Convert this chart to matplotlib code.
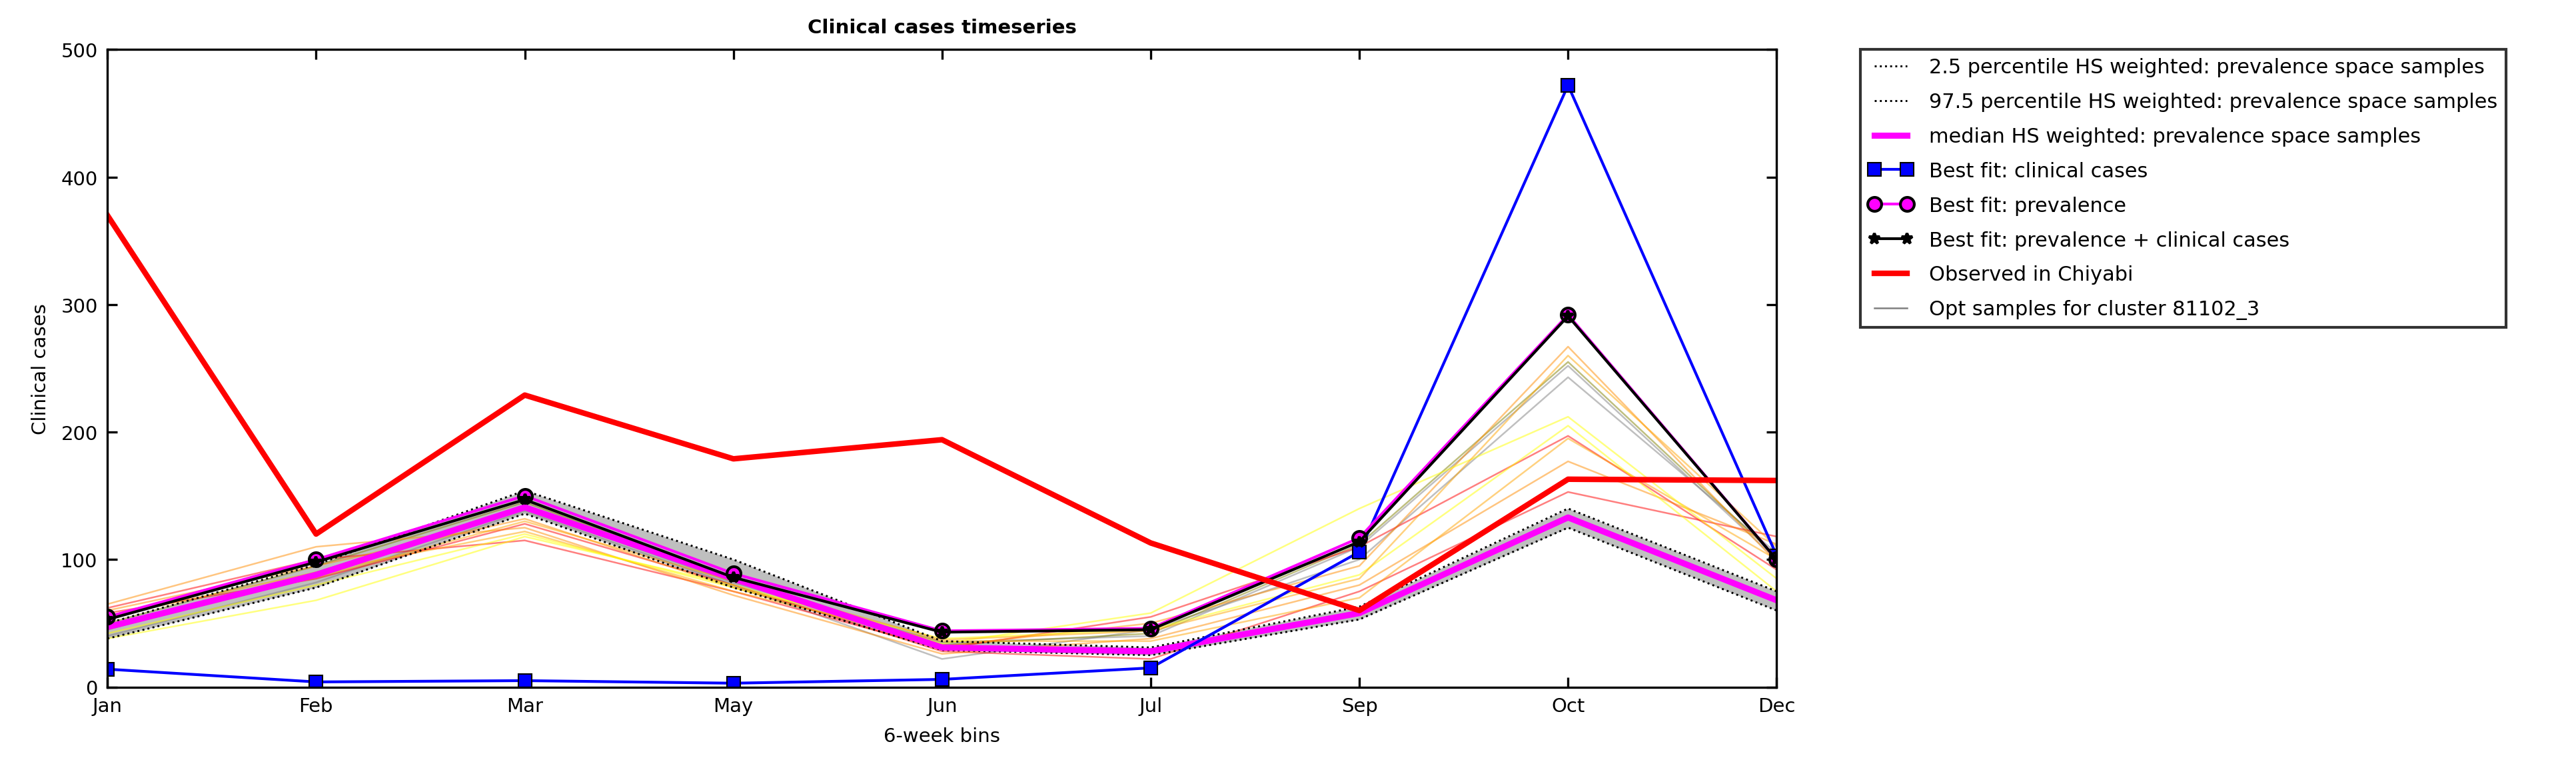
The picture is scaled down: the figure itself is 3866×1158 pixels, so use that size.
import numpy as np
import matplotlib
matplotlib.use("Agg")
from matplotlib import pyplot as plt

# Month bins on the x axis.
months = ["Jan", "Feb", "Mar", "May", "Jun", "Jul", "Sep", "Oct", "Dec"]

# Series.
observed = [370, 120, 229, 179, 194, 113, 60, 163, 162]
fit_clinical = [14, 4, 5, 3, 6, 15, 106, 472, 103]
fit_prevalence = [55, 100, 150, 89, 44, 46, 117, 292, 100]
fit_both = [53, 98, 147, 86, 43, 45, 114, 291, 100]
median_hs = [47, 88, 141, 85, 31, 28, 58, 133, 68]
low_hs = [38, 78, 136, 78, 29, 25, 53, 125, 60]
high_hs = [50, 96, 154, 100, 36, 31, 63, 140, 75]

# Opt samples for the cluster, with their colours.
opt_samples = [
    [40, 82, 138, 80, 22, 45, 100, 243, 105],
    [45, 90, 140, 82, 35, 40, 110, 252, 100],
    [50, 95, 145, 85, 33, 42, 112, 255, 102],
    [62, 100, 115, 75, 30, 55, 110, 197, 92],
    [58, 85, 128, 80, 28, 22, 75, 153, 118],
    [65, 110, 125, 72, 26, 38, 80, 177, 112],
    [60, 95, 132, 78, 32, 50, 95, 267, 98],
    [55, 90, 122, 75, 36, 36, 70, 195, 100],
    [38, 68, 118, 80, 34, 58, 140, 212, 85],
    [42, 80, 120, 78, 38, 45, 88, 205, 75],
    [48, 86, 130, 83, 37, 44, 85, 260, 110],
]
opt_colors = ["gray", "gray", "olive", "red", "red", "darkorange", "darkorange",
              "orange", "yellow", "yellow", "orange"]

x = np.arange(len(months))

fig = plt.figure(figsize=(12.887, 3.863), dpi=300)
ax = fig.add_axes([0.0417, 0.11, 0.648, 0.825])

# Samples first, underneath everything.
for s, c in zip(opt_samples, opt_colors):
    ax.plot(x, s, color=c, linewidth=0.6, alpha=0.5)
ax.plot([], [], color="gray", linewidth=0.6, label="Opt samples for cluster 81102_3")

# Percentile band.
ax.fill_between(x, low_hs, high_hs, color="gray", alpha=0.5, linewidth=0)
ax.plot(x, low_hs, ":", color="k", linewidth=0.7, label="2.5 percentile HS weighted: prevalence space samples")
ax.plot(x, high_hs, ":", color="k", linewidth=0.7, label="97.5 percentile HS weighted: prevalence space samples")
ax.plot(x, median_hs, color="magenta", linewidth=2.2, label="median HS weighted: prevalence space samples")

ax.plot(x, fit_clinical, "s-", color="blue", markeredgecolor="k", markeredgewidth=0.5,
        markersize=5, linewidth=1, label="Best fit: clinical cases")
ax.plot(x, fit_prevalence, "o-", color="magenta", markeredgecolor="k", markersize=5,
        linewidth=1, label="Best fit: prevalence")
ax.plot(x, fit_both, "*-", color="k", markersize=4, linewidth=1, label="Best fit: prevalence + clinical cases")
ax.plot(x, observed, color="red", linewidth=2, label="Observed in Chiyabi")

ax.set_xlim(0, len(months) - 1)
ax.set_ylim(0, 500)
ax.set_xticks(x)
ax.set_xticklabels(months, fontsize=7)
ax.tick_params(axis="y", labelsize=7)
ax.tick_params(direction="in", top=True, right=True)
ax.set_xlabel("6-week bins", fontsize=7)
ax.set_ylabel("Clinical cases", fontsize=7)
ax.set_title("Clinical cases timeseries", fontsize=7, fontweight="bold")

# Legend order as in the reference.
h, l = ax.get_legend_handles_labels()
order = [1, 2, 3, 4, 5, 6, 7, 0]
leg = ax.legend([h[i] for i in order], [l[i] for i in order], loc="upper left",
                bbox_to_anchor=(1.05, 1.0), fontsize=7.3, fancybox=False, numpoints=2,
                edgecolor="k", borderaxespad=0, labelspacing=0.75, handlelength=2.2)
leg.get_frame().set_linewidth(1)

fig.savefig("out.png", dpi=300)
